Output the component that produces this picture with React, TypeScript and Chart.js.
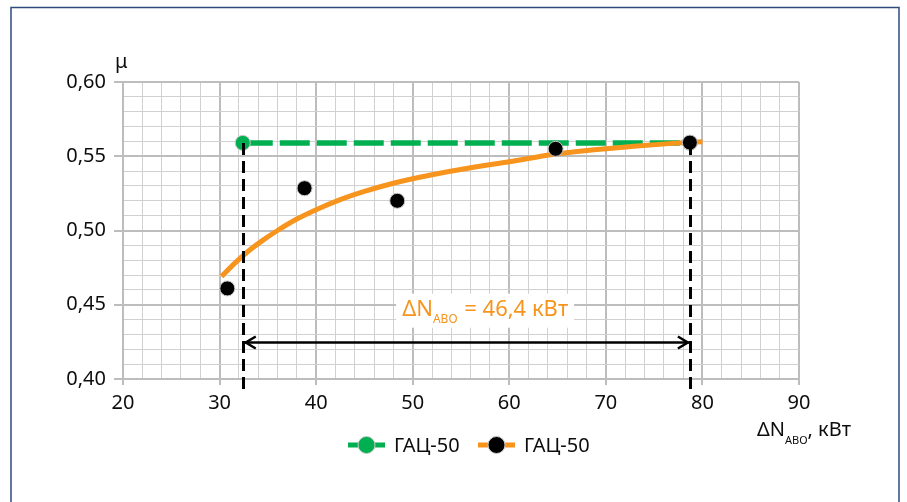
import React, { useEffect, useRef } from 'react';
import { Chart, registerables } from 'chart.js';

Chart.register(...registerables);

const FONT = '"Noto Sans", "DejaVu Sans", sans-serif';

// axis ranges and ticks
const xMin = 20;
const xMax = 90;
const xStep = 2;
const xMajorEvery = 10;
const yMin = 0.4;
const yMax = 0.6;
const yStep = 0.01;
const yMajorEvery = 5; // in hundredths

// series: green (level line)
const greenX = [32.4, 78.7];
const greenY = [0.559, 0.559];

// series: black measured points
const pointX = [30.8, 38.8, 48.4, 64.8, 78.7];
const pointY = [0.461, 0.5285, 0.52, 0.555, 0.5592];

// series: orange trend curve
const trendX = [30.2, 31.5, 33, 34.5, 36, 38, 40, 42.5, 45, 48, 52, 56, 60, 64.8, 68.5, 72.9, 76.5, 80];
const trendY = [0.469, 0.4775, 0.4862, 0.4935, 0.5, 0.5077, 0.514, 0.5208, 0.5263, 0.5318, 0.5375, 0.5422, 0.5463, 0.5515, 0.5542, 0.5568, 0.5585, 0.5598];

const seriesLabels = ['ГАЦ-50', 'ГАЦ-50'];

// annotation
const spanStart = 32.4;
const spanEnd = 78.7;
const spanLevel = 0.559;
const arrowY = 0.425;
const labelX = 57.5;
const labelY = 0.446;
const labelMain = 'ΔN';
const labelSub = 'АВО';
const labelRest = ' = 46,4 кВт';

const xTitleMain = 'ΔN';
const xTitleSub = 'АВО';
const xTitleRest = ', кВт';
const yTitle = 'μ';

const GREEN = '#00b050';
const ORANGE = '#f7941d';
const BLACK = '#000000';
const GRID_MAJOR = '#bdbdbd';
const GRID_MINOR = '#d0d0d0';
const TEXT = '#0d0d0d';

const isMajorX = (v: number) => Math.round(v) % xMajorEvery === 0;
const isMajorY = (v: number) => Math.round(v * 100) % yMajorEvery === 0;

const toXY = (xs: number[], ys: number[]) => xs.map((x, i) => ({ x, y: ys[i] }));

const decorPlugin = {
  id: 'decor',
  beforeDraw(chart: any) {
    const { ctx } = chart;
    ctx.save();
    ctx.fillStyle = '#ffffff';
    ctx.fillRect(0, 0, chart.width, chart.height);
    ctx.strokeStyle = '#2f4b7c';
    ctx.lineWidth = 1.5;
    ctx.strokeRect(11, 7.5, 888, 600);
    ctx.restore();
  },
  afterDraw(chart: any) {
    const { ctx, chartArea } = chart;
    const xs = chart.scales.x;
    const ys = chart.scales.y;
    ctx.save();

    // dashed verticals
    ctx.strokeStyle = BLACK;
    ctx.lineWidth = 3;
    ctx.setLineDash([12, 6]);
    [spanStart, spanEnd].forEach((v) => {
      const px = Math.round(xs.getPixelForValue(v)) + 0.5;
      ctx.beginPath();
      ctx.moveTo(px, ys.getPixelForValue(spanLevel));
      ctx.lineTo(px, chartArea.bottom + 10);
      ctx.stroke();
    });
    ctx.setLineDash([]);

    // double arrow
    const ay = Math.round(ys.getPixelForValue(arrowY)) + 0.5;
    const ax1 = xs.getPixelForValue(spanStart) + 2;
    const ax2 = xs.getPixelForValue(spanEnd) - 1;
    ctx.lineWidth = 2.5;
    ctx.beginPath();
    ctx.moveTo(ax1, ay);
    ctx.lineTo(ax2, ay);
    ctx.stroke();
    ctx.beginPath();
    ctx.moveTo(ax1 + 11, ay - 6);
    ctx.lineTo(ax1 + 1, ay);
    ctx.lineTo(ax1 + 11, ay + 6);
    ctx.moveTo(ax2 - 11, ay - 6);
    ctx.lineTo(ax2 - 1, ay);
    ctx.lineTo(ax2 - 11, ay + 6);
    ctx.stroke();

    // annotation label
    const mainFont = `22px ${FONT}`;
    const subFont = `12px ${FONT}`;
    ctx.font = mainFont;
    const w1 = ctx.measureText(labelMain).width;
    const w3 = ctx.measureText(labelRest).width;
    ctx.font = subFont;
    const w2 = ctx.measureText(labelSub).width + 1;
    const total = w1 + w2 + w3;
    const cx = xs.getPixelForValue(labelX);
    const cy = ys.getPixelForValue(labelY);
    const left = cx - total / 2;
    ctx.fillStyle = '#ffffff';
    ctx.fillRect(left - 6, cy - 17, total + 12, 34);
    ctx.fillStyle = ORANGE;
    ctx.textBaseline = 'alphabetic';
    ctx.textAlign = 'left';
    ctx.font = mainFont;
    ctx.fillText(labelMain, left, cy + 5);
    ctx.font = subFont;
    ctx.fillText(labelSub, left + w1, cy + 12);
    ctx.font = mainFont;
    ctx.fillText(labelRest, left + w1 + w2, cy + 5);

    // axis titles
    ctx.fillStyle = TEXT;
    ctx.font = `20px ${FONT}`;
    ctx.fillText(yTitle, chartArea.left - 8, chartArea.top - 14);

    const tx = chartArea.right - 42;
    const tb = chartArea.bottom + 57;
    ctx.font = `20px ${FONT}`;
    const t1 = ctx.measureText(xTitleMain).width;
    ctx.fillText(xTitleMain, tx, tb);
    ctx.font = `11px ${FONT}`;
    const t2 = ctx.measureText(xTitleSub).width;
    ctx.fillText(xTitleSub, tx + t1, tb + 8);
    ctx.font = `20px ${FONT}`;
    ctx.fillText(xTitleRest, tx + t1 + t2, tb);

    // legend
    const ly = 445;
    const items = [
      { x: 348, line: GREEN, dot: GREEN, text: seriesLabels[0] },
      { x: 478, line: ORANGE, dot: BLACK, text: seriesLabels[1] },
    ];
    items.forEach((it) => {
      ctx.strokeStyle = it.line;
      ctx.lineWidth = 5;
      ctx.beginPath();
      ctx.moveTo(it.x, ly);
      ctx.lineTo(it.x + 37, ly);
      ctx.stroke();
      ctx.beginPath();
      ctx.arc(it.x + 18.5, ly, 8.5, 0, Math.PI * 2);
      ctx.fillStyle = it.dot;
      ctx.fill();
      ctx.strokeStyle = '#c8c8c8';
      ctx.lineWidth = 1;
      ctx.stroke();
      ctx.fillStyle = TEXT;
      ctx.font = `20px ${FONT}`;
      ctx.fillText(it.text, it.x + 46, ly + 7);
    });

    ctx.restore();
  },
};

export default function App() {
  const ref = useRef<HTMLCanvasElement | null>(null);

  useEffect(() => {
    if (!ref.current) return;
    const chart = new Chart(ref.current, {
      type: 'line',
      data: {
        datasets: [
          {
            label: seriesLabels[1] + ' точки',
            data: toXY(pointX, pointY),
            showLine: false,
            pointRadius: 7.5,
            pointBackgroundColor: BLACK,
            pointBorderColor: '#c8c8c8',
            pointBorderWidth: 1,
          },
          {
            label: seriesLabels[1],
            data: toXY(trendX, trendY),
            borderColor: ORANGE,
            borderWidth: 5,
            pointRadius: 0,
            tension: 0.4,
            cubicInterpolationMode: 'monotone',
            fill: false,
          },
          {
            label: seriesLabels[0],
            data: toXY(greenX, greenY),
            borderColor: GREEN,
            borderWidth: 5.5,
            borderDash: [30, 7],
            pointRadius: 7.5,
            pointBackgroundColor: GREEN,
            pointBorderColor: '#c8c8c8',
            pointBorderWidth: 1,
            fill: false,
          },
        ],
      },
      options: {
        animation: false,
        responsive: false,
        devicePixelRatio: 1,
        layout: { padding: { left: 0, right: 108, top: 82, bottom: 0 } },
        plugins: {
          legend: { display: false },
          tooltip: { enabled: false },
        },
        scales: {
          x: {
            type: 'linear',
            min: xMin,
            max: xMax,
            afterFit: (s: any) => {
              s.height = 123;
            },
            ticks: {
              stepSize: xStep,
              autoSkip: false,
              maxRotation: 0,
              padding: 6,
              color: TEXT,
              font: { family: FONT, size: 20 },
              callback: (v: any) => (isMajorX(Number(v)) ? String(v) : ''),
            },
            grid: {
              color: (c: any) => (isMajorX(c.tick.value) ? GRID_MAJOR : GRID_MINOR),
              lineWidth: (c: any) => (isMajorX(c.tick.value) ? 2 : 1),
              tickColor: (c: any) => (isMajorX(c.tick.value) ? GRID_MAJOR : 'rgba(0,0,0,0)'),
              tickLength: 6,
            },
            border: { color: GRID_MAJOR, width: 2 },
          },
          y: {
            type: 'linear',
            min: yMin,
            max: yMax,
            afterFit: (s: any) => {
              s.width = 123;
            },
            ticks: {
              stepSize: yStep,
              autoSkip: false,
              padding: 8,
              color: TEXT,
              font: { family: FONT, size: 20 },
              callback: (v: any) => {
                const n = Number(v);
                return isMajorY(n) ? n.toFixed(2).replace('.', ',') : '';
              },
            },
            grid: {
              color: (c: any) => (isMajorY(c.tick.value) ? GRID_MAJOR : GRID_MINOR),
              lineWidth: (c: any) => (isMajorY(c.tick.value) ? 2 : 1),
              tickColor: (c: any) => (isMajorY(c.tick.value) ? GRID_MAJOR : 'rgba(0,0,0,0)'),
              tickLength: 9,
            },
            border: { color: GRID_MAJOR, width: 2 },
          },
        },
      },
      plugins: [decorPlugin],
    } as any);
    return () => chart.destroy();
  }, []);

  return (
    <div style={{ position: 'fixed', left: 0, top: 0, width: 907, height: 502, background: '#fff' }}>
      <canvas ref={ref} width={907} height={502} style={{ display: 'block' }} />
    </div>
  );
}
